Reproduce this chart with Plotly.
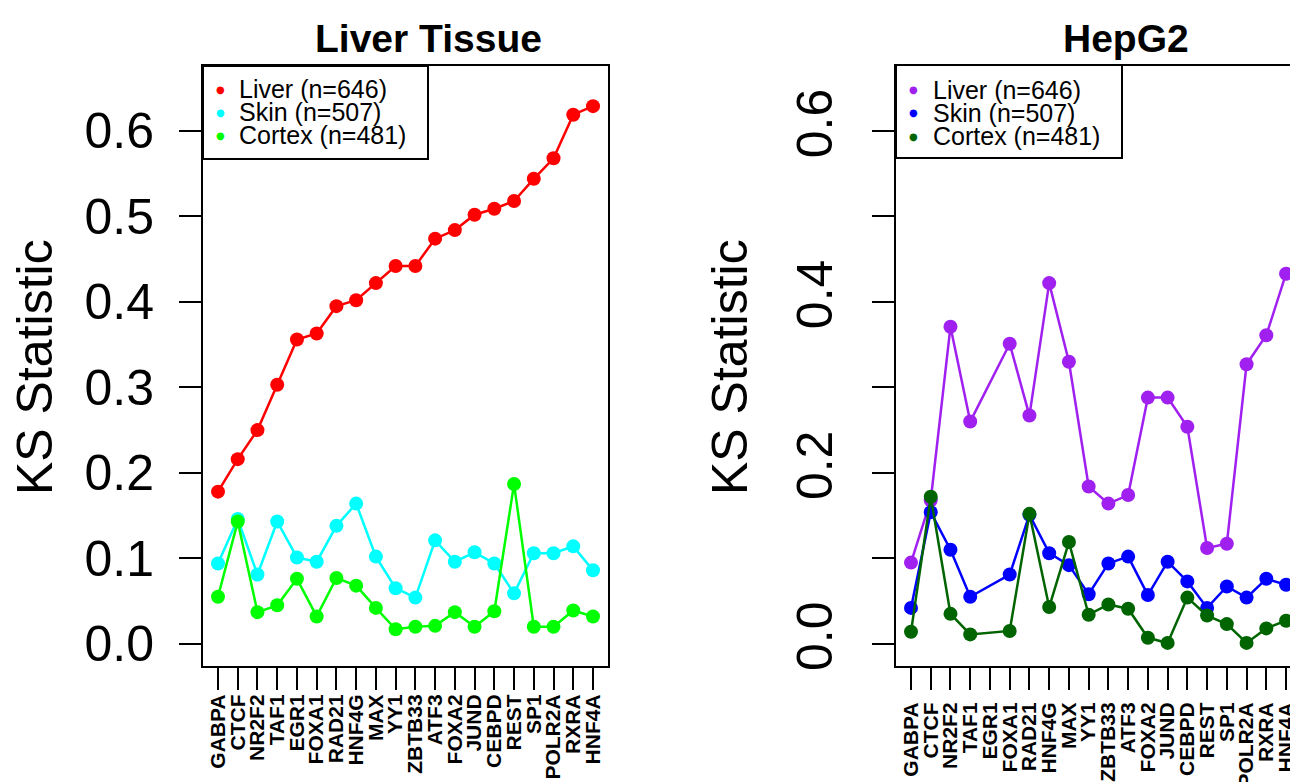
import plotly.graph_objects as go

W, H = 1290, 782

factors = ["GABPA", "CTCF", "NR2F2", "TAF1", "EGR1", "FOXA1", "RAD21", "HNF4G", "MAX", "YY1",
           "ZBTB33", "ATF3", "FOXA2", "JUND", "CEBPD", "REST", "SP1", "POLR2A", "RXRA", "HNF4A"]

# Liver Tissue panel
tissue_liver = [0.178, 0.216, 0.250, 0.303, 0.356, 0.363, 0.395, 0.402, 0.422, 0.442,
                0.442, 0.474, 0.484, 0.502, 0.509, 0.518, 0.544, 0.568, 0.619, 0.629]
tissue_skin = [0.094, 0.146, 0.081, 0.143, 0.101, 0.096, 0.138, 0.164, 0.102, 0.065,
               0.054, 0.121, 0.096, 0.107, 0.094, 0.059, 0.106, 0.106, 0.114, 0.086]
tissue_cortex = [0.055, 0.143, 0.037, 0.045, 0.076, 0.032, 0.077, 0.068, 0.042, 0.017,
                 0.020, 0.021, 0.037, 0.020, 0.038, 0.187, 0.020, 0.020, 0.039, 0.032]

# HepG2 panel (EGR1 not available)
hepg2_liver = [0.095, 0.168, 0.371, 0.260, None, 0.351, 0.267, 0.422, 0.330, 0.184,
               0.164, 0.174, 0.288, 0.288, 0.254, 0.112, 0.117, 0.327, 0.361, 0.433]
hepg2_skin = [0.042, 0.154, 0.110, 0.055, None, 0.081, 0.151, 0.106, 0.092, 0.058,
              0.094, 0.102, 0.057, 0.096, 0.073, 0.042, 0.067, 0.054, 0.076, 0.069]
hepg2_cortex = [0.014, 0.172, 0.035, 0.011, None, 0.015, 0.152, 0.043, 0.119, 0.034,
                0.046, 0.041, 0.007, 0.001, 0.054, 0.033, 0.023, 0.001, 0.018, 0.027]

legend_labels = ["Liver (n=646)", "Skin (n=507)", "Cortex (n=481)"]
tissue_colors = ["#FF0000", "#00FFFF", "#00FF00"]
hepg2_colors = ["#A020F0", "#0000FF", "#006400"]

FONT = "Liberation Sans, Arial, Helvetica, sans-serif"


def px(x):
    return x / W


def py(y):
    return 1 - y / H


fig = go.Figure()

for vals, col in zip([tissue_liver, tissue_skin, tissue_cortex], tissue_colors):
    fig.add_trace(go.Scatter(x=factors, y=vals, mode="lines+markers", xaxis="x", yaxis="y",
                             line=dict(color=col, width=2.5), marker=dict(color=col, size=14),
                             showlegend=False))
for vals, col in zip([hepg2_liver, hepg2_skin, hepg2_cortex], hepg2_colors):
    fig.add_trace(go.Scatter(x=factors, y=vals, mode="lines+markers", xaxis="x2", yaxis="y2",
                             connectgaps=True,
                             line=dict(color=col, width=2.5), marker=dict(color=col, size=14),
                             showlegend=False))

ydom = [py(666), py(66)]
yrange = [-0.026, 0.676]

xcommon = dict(type="category", categoryorder="array", categoryarray=factors,
               tickmode="array", tickvals=factors, ticktext=factors,
               tickangle=-90, ticks="outside", ticklen=22, tickwidth=2, tickcolor="black",
               showline=True, linewidth=2, linecolor="black", mirror=True,
               showgrid=False, zeroline=False, automargin=False,
               tickfont=dict(family=FONT, size=21, color="black", weight="bold"))

ycommon = dict(range=yrange, domain=ydom, tickmode="array",
               tickvals=[0, 0.1, 0.2, 0.3, 0.4, 0.5, 0.6],
               ticks="outside", ticklen=22, tickwidth=2, tickcolor="black",
               showline=True, linewidth=2, linecolor="black",
               showgrid=False, zeroline=False, automargin=False,
               tickfont=dict(family=FONT, size=50, color="black"))

fig.update_layout(
    width=W, height=H, autosize=False,
    margin=dict(l=0, r=0, t=0, b=0, autoexpand=False),
    paper_bgcolor="white", plot_bgcolor="white",
    xaxis=dict(domain=[px(203), px(608)], range=[-0.76, 19.76], anchor="y",
               ticklabelstandoff=-4, **xcommon),
    xaxis2=dict(domain=[px(896), 1.0], range=[-0.76, 19.2], anchor="y2",
                ticklabelstandoff=4, **xcommon),
    yaxis=dict(anchor="x", mirror=True, ticklabelstandoff=15,
               ticktext=["0.0", "0.1", "0.2", "0.3", "0.4", "0.5", "0.6"], **ycommon),
    yaxis2=dict(anchor="x2", mirror=False, tickangle=-90, ticklabelstandoff=20,
                ticktext=["0.0", "", "0.2", "", "0.4", "", "0.6"], **ycommon),
)

annotations = []
shapes = []

# titles
for text, cx in [("Liver Tissue", 428), ("HepG2", 1126)]:
    annotations.append(dict(text=text, x=px(cx), y=py(62), xref="paper", yref="paper",
                            xanchor="center", yanchor="bottom", showarrow=False,
                            font=dict(family=FONT, size=39, color="black", weight="bold")))
# y titles
for cx in [35, 730]:
    annotations.append(dict(text="KS Statistic", x=px(cx), y=py(367), xref="paper", yref="paper",
                            xanchor="center", yanchor="middle", textangle=-90, showarrow=False,
                            font=dict(family=FONT, size=50, color="black")))

# manual legends
for (bx0, bx1, by0, by1, dotx, textx, rows), cols in [
        ((203, 428, 66, 159, 220, 237, [89, 112, 135]), tissue_colors),
        ((896, 1122, 65, 158, 913, 931, [90, 113, 136]), hepg2_colors)]:
    shapes.append(dict(type="rect", xref="paper", yref="paper", x0=px(bx0), x1=px(bx1),
                       y0=py(by1), y1=py(by0), line=dict(color="black", width=2),
                       fillcolor="white", layer="above"))
    for lab, col, ry in zip(legend_labels, cols, rows):
        annotations.append(dict(text="●", x=px(dotx), y=py(ry), xref="paper", yref="paper",
                                xanchor="center", yanchor="middle", showarrow=False,
                                font=dict(family="DejaVu Sans", size=10, color=col)))
        annotations.append(dict(text=lab, x=px(textx), y=py(ry), xref="paper", yref="paper",
                                xanchor="left", yanchor="middle", showarrow=False,
                                font=dict(family=FONT, size=25, color="black")))

fig.update_layout(annotations=annotations, shapes=shapes)

fig.write_html("out.html")
